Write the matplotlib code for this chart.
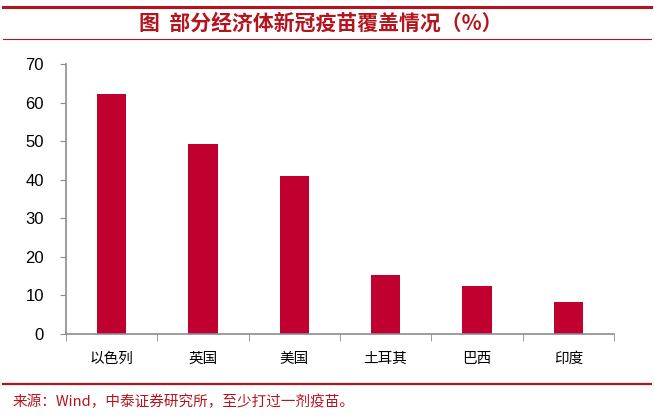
import matplotlib
matplotlib.use('Agg')
import matplotlib.pyplot as plt
from matplotlib.lines import Line2D
import numpy as np

plt.rcParams['font.family'] = ['Noto Sans CJK SC', 'DejaVu Sans']

countries = ['以色列', '英国', '美国', '土耳其', '巴西', '印度']
coverage = [62.1, 49.2, 40.9, 15.3, 12.4, 8.3]

red = '#C0002F'
title_red = '#B4141E'
grey = '#8C8C8C'

fig = plt.figure(figsize=(6.54, 4.18), dpi=100)
ax = fig.add_axes([66 / 654, 1 - 334 / 418, (614 - 66) / 654, (334 - 64) / 418])

x = np.arange(len(countries))
ax.bar(x, coverage, width=0.32, color=red)

ax.set_xlim(-0.5, len(countries) - 0.5)
ax.set_ylim(0, 70)
ax.set_yticks(range(0, 71, 10))
ax.set_yticklabels([str(v) for v in range(0, 71, 10)],
                   family='Liberation Sans', fontsize=12)

ax.set_xticks(x)
ax.set_xticklabels(countries, fontsize=10.5)
ax.set_xticks(np.arange(-0.5, len(countries)), minor=True)
ax.tick_params(axis='x', which='major', length=0, pad=13)
ax.tick_params(axis='x', which='minor', length=5, color=grey, direction='out')
ax.tick_params(axis='y', length=4, color=grey, direction='out', pad=12)

for s in ['top', 'right']:
    ax.spines[s].set_visible(False)
for s in ['left', 'bottom']:
    ax.spines[s].set_color(grey)
    ax.spines[s].set_linewidth(1.2)

# header / footer rules
fig.add_artist(Line2D([3 / 654, 651 / 654], [1 - 7 / 418] * 2, color=title_red, lw=2.2))
fig.add_artist(Line2D([3 / 654, 651 / 654], [1 - 39 / 418] * 2, color=title_red, lw=0.8))
fig.add_artist(Line2D([3 / 654, 651 / 654], [1 - 384 / 418] * 2, color=title_red, lw=1.6))

fig.text(321 / 654, 1 - 23 / 418, '图  部分经济体新冠疫苗覆盖情况（%）',
         ha='center', va='center', fontsize=15, fontweight='bold', color=title_red)
fig.text(13 / 654, 1 - 402 / 418, '来源：Wind，中泰证券研究所，至少打过一剂疫苗。',
         ha='left', va='center', fontsize=10.5, color=title_red)

fig.savefig('out.png', dpi=100)
